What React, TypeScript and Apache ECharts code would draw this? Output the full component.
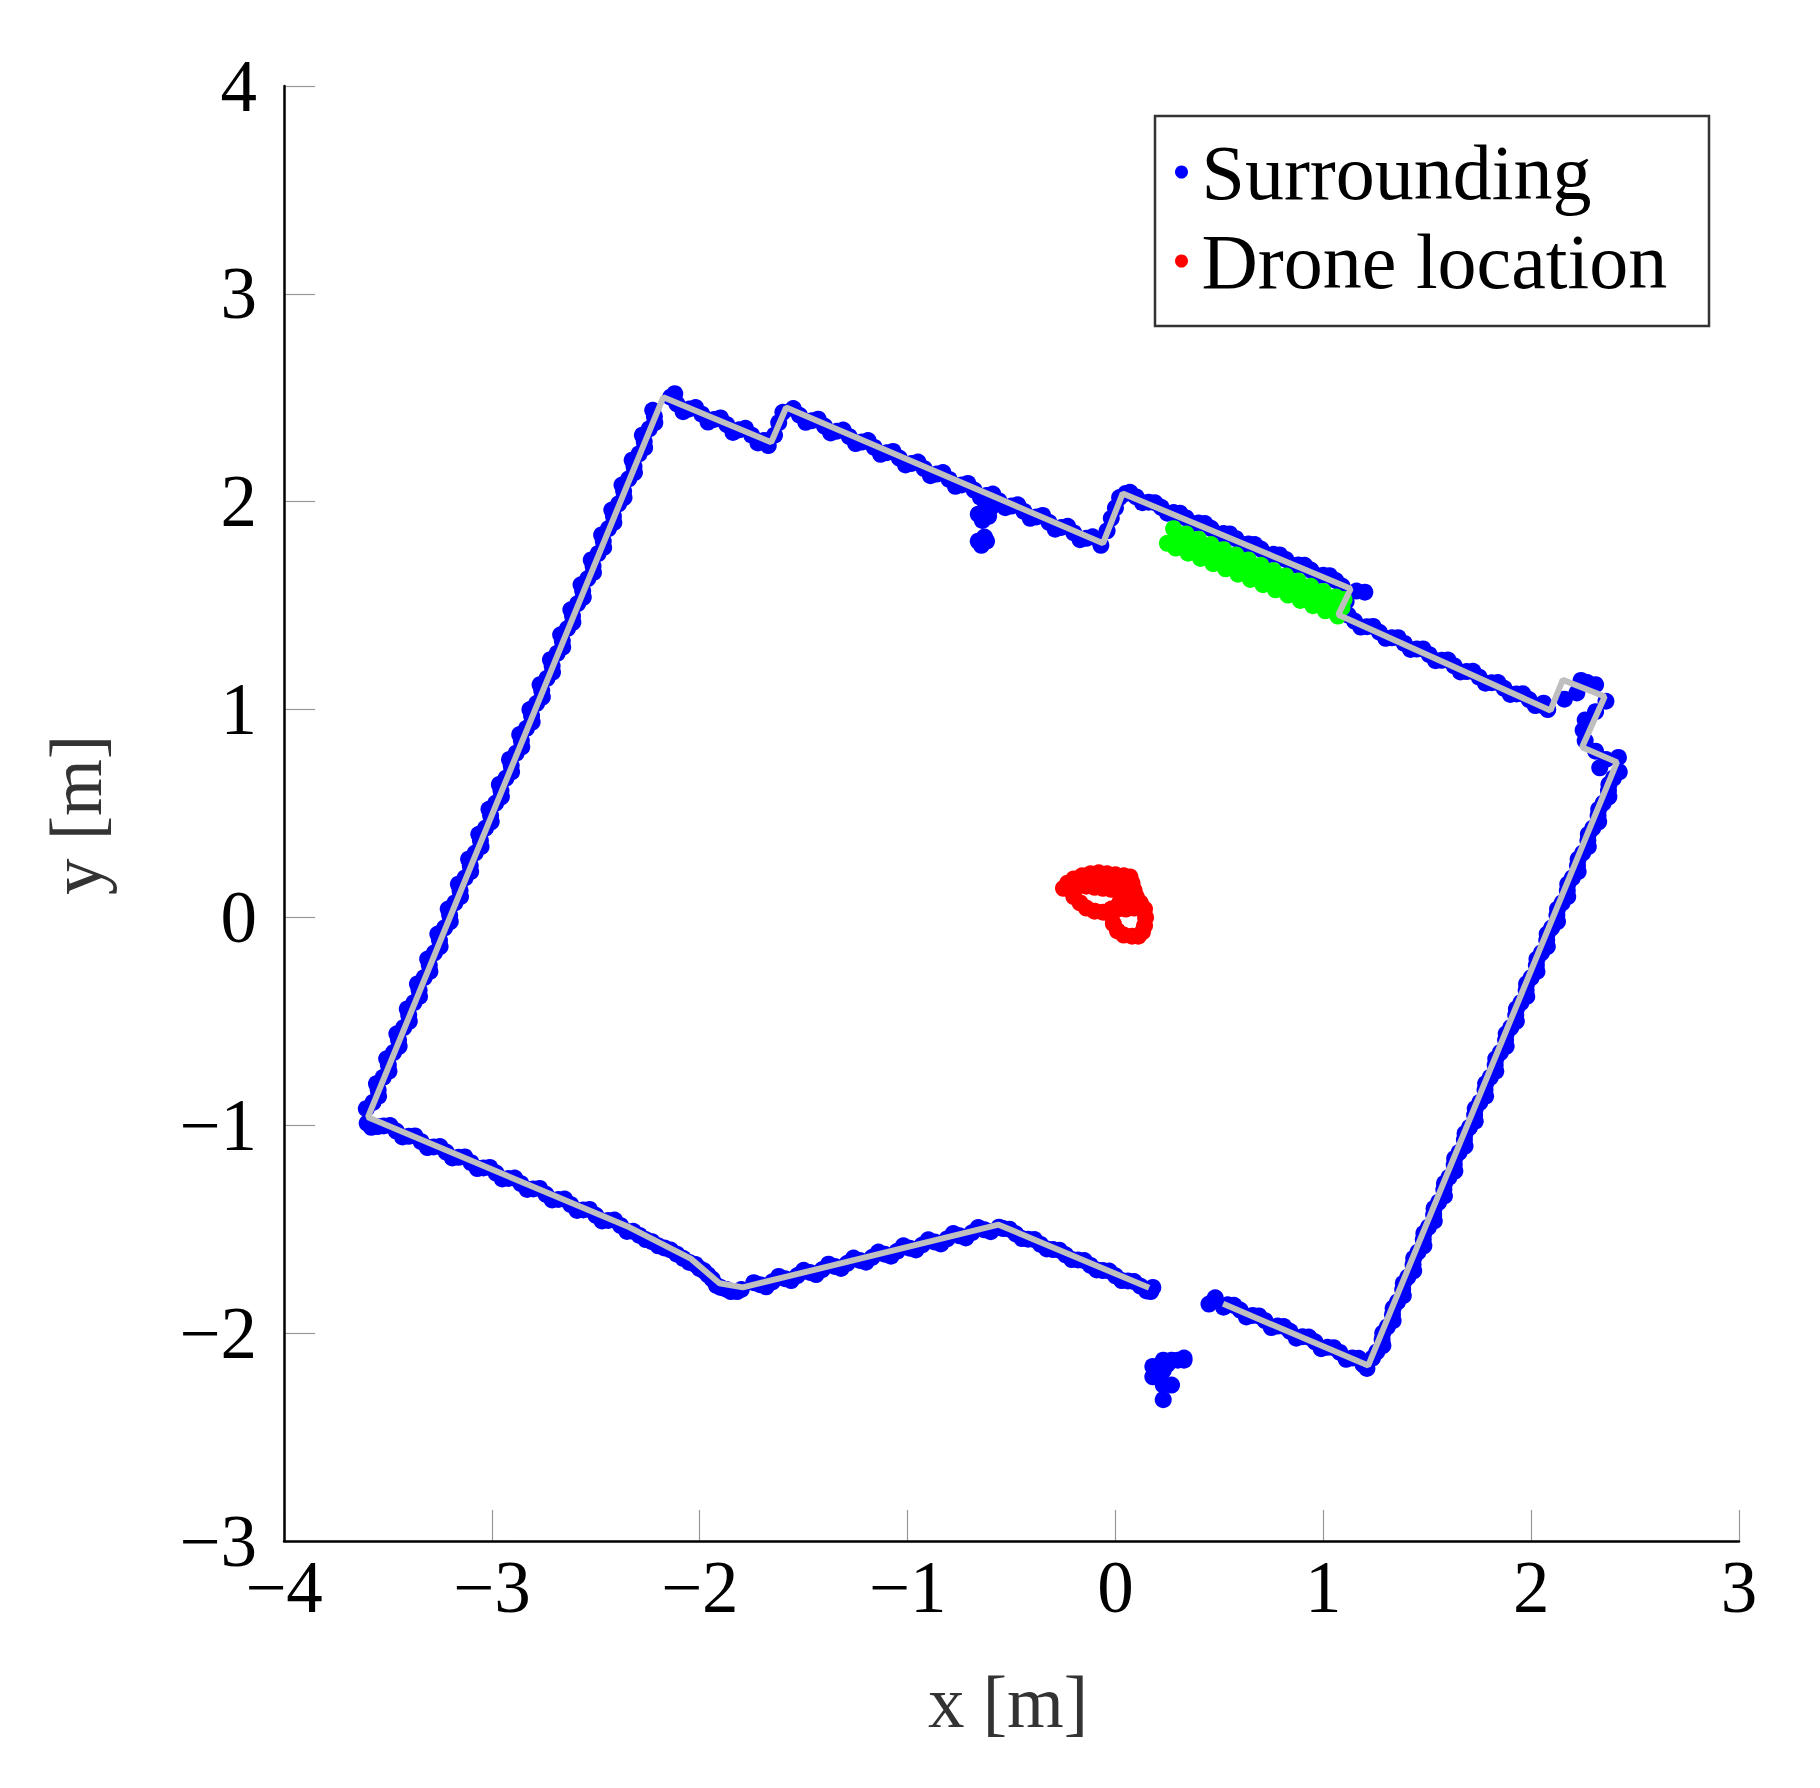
import React, { useEffect, useRef } from "react";
import * as echarts from "echarts";

type P = [number, number];

// Axis ticks
const xTicks = [-4, -3, -2, -1, 0, 1, 2, 3];
const yTicks = [-3, -2, -1, 0, 1, 2, 3, 4];

// Wall model (gray polyline)
const wallModel: P[] = [
  [0.162, -1.782], [-0.562, -1.478], [-1.793, -1.78], [-1.905, -1.76], [-2.041, -1.643],
  [-2.338, -1.491], [-3.596, -0.961], [-2.175, 2.503], [-1.656, 2.286], [-1.584, 2.453],
  [-0.06, 1.8], [0.035, 2.04], [1.132, 1.581], [1.072, 1.456], [2.093, 0.996],
  [2.152, 1.143], [2.354, 1.063], [2.245, 0.819], [2.413, 0.747], [1.216, -2.156],
  [0.518, -1.859],
];

// Surrounding point cloud, per wall
const leftWall: P[] = [
  [-3.604, -0.92], [-3.545, -0.86], [-3.555, -0.8], [-3.495, -0.74], [-3.506, -0.68], [-3.446, -0.62],
  [-3.457, -0.56], [-3.397, -0.5], [-3.407, -0.44], [-3.348, -0.38], [-3.358, -0.32], [-3.298, -0.26],
  [-3.309, -0.2], [-3.249, -0.14], [-3.26, -0.08], [-3.2, -0.02], [-3.21, 0.04], [-3.151, 0.1],
  [-3.161, 0.16], [-3.102, 0.22], [-3.112, 0.28], [-3.052, 0.34], [-3.063, 0.4], [-3.003, 0.46],
  [-3.014, 0.52], [-2.954, 0.58], [-2.964, 0.64], [-2.905, 0.7], [-2.915, 0.76], [-2.856, 0.82],
  [-2.866, 0.88], [-2.806, 0.94], [-2.817, 1.0], [-2.757, 1.06], [-2.768, 1.12], [-2.708, 1.18],
  [-2.718, 1.24], [-2.659, 1.3], [-2.669, 1.36], [-2.61, 1.42], [-2.62, 1.48], [-2.56, 1.54],
  [-2.571, 1.6], [-2.511, 1.66], [-2.522, 1.72], [-2.462, 1.78], [-2.472, 1.84], [-2.413, 1.9],
  [-2.423, 1.96], [-2.364, 2.02], [-2.374, 2.08], [-2.314, 2.14], [-2.325, 2.2], [-2.265, 2.26],
  [-2.276, 2.32], [-2.216, 2.38], [-2.226, 2.44],
];
const leftWallInner: P[] = [
  [-3.572, -0.89], [-3.547, -0.83], [-3.523, -0.77], [-3.498, -0.71], [-3.473, -0.65], [-3.449, -0.59],
  [-3.424, -0.53], [-3.4, -0.47], [-3.375, -0.41], [-3.35, -0.35], [-3.326, -0.29], [-3.301, -0.23],
  [-3.276, -0.17], [-3.252, -0.11], [-3.227, -0.05], [-3.203, 0.01], [-3.178, 0.07], [-3.153, 0.13],
  [-3.129, 0.19], [-3.104, 0.25], [-3.08, 0.31], [-3.055, 0.37], [-3.03, 0.43], [-3.006, 0.49],
  [-2.981, 0.55], [-2.956, 0.61], [-2.932, 0.67], [-2.907, 0.73], [-2.883, 0.79], [-2.858, 0.85],
  [-2.833, 0.91], [-2.809, 0.97], [-2.784, 1.03], [-2.76, 1.09], [-2.735, 1.15], [-2.71, 1.21],
  [-2.686, 1.27], [-2.661, 1.33], [-2.636, 1.39], [-2.612, 1.45], [-2.587, 1.51], [-2.563, 1.57],
  [-2.538, 1.63], [-2.513, 1.69], [-2.489, 1.75], [-2.464, 1.81], [-2.439, 1.87], [-2.415, 1.93],
  [-2.39, 1.99], [-2.366, 2.05], [-2.341, 2.11], [-2.316, 2.17], [-2.292, 2.23], [-2.267, 2.29],
  [-2.243, 2.35], [-2.218, 2.41],
];
const topWallWest: P[] = [
  [-2.12, 2.52], [-2.14, 2.503], [-2.08, 2.433], [-2.02, 2.453], [-1.96, 2.383], [-1.9, 2.403],
  [-1.84, 2.333], [-1.78, 2.353], [-1.72, 2.283], [-1.67, 2.27], [-1.64, 2.32], [-1.62, 2.38], [-1.6, 2.43],
  [-2.11, 2.471], [-2.05, 2.446], [-1.99, 2.421], [-1.93, 2.396], [-1.87, 2.371], [-1.81, 2.346],
  [-1.75, 2.32], [-1.69, 2.295],
  [-1.55, 2.448], [-1.49, 2.382], [-1.43, 2.397], [-1.37, 2.331], [-1.31, 2.345], [-1.25, 2.28],
  [-1.19, 2.294], [-1.13, 2.228], [-1.07, 2.242], [-1.01, 2.177], [-0.95, 2.191], [-0.89, 2.125],
  [-0.83, 2.14], [-0.77, 2.074], [-0.71, 2.088], [-0.65, 2.022], [-0.59, 2.037], [-0.53, 1.971],
  [-0.47, 1.985], [-0.41, 1.92], [-0.35, 1.934], [-0.29, 1.868], [-0.23, 1.882], [-0.17, 1.817],
  [-0.11, 1.831], [-0.07, 1.79],
  [-1.52, 2.416], [-1.46, 2.39], [-1.4, 2.364], [-1.34, 2.339], [-1.28, 2.313], [-1.22, 2.287],
  [-1.16, 2.261], [-1.1, 2.236], [-1.04, 2.21], [-0.98, 2.184], [-0.92, 2.159], [-0.86, 2.133],
  [-0.8, 2.107], [-0.74, 2.081], [-0.68, 2.056], [-0.62, 2.03], [-0.56, 2.004], [-0.5, 1.979],
  [-0.44, 1.953], [-0.38, 1.927], [-0.32, 1.901], [-0.26, 1.876], [-0.2, 1.85], [-0.14, 1.824],
  [-0.66, 1.94], [-0.63, 1.96], [-0.6, 1.97], [-0.64, 1.91], [-0.61, 1.93],
  [-0.66, 1.81], [-0.63, 1.83], [-0.645, 1.79], [-0.62, 1.81],
];
const topWallEast: P[] = [
  [-0.04, 1.86], [-0.02, 1.92], [0.0, 1.97], [0.02, 2.02], [0.05, 2.04],
  [0.07, 2.045], [0.13, 1.995], [0.19, 1.995], [0.25, 1.945], [0.31, 1.945], [0.37, 1.895],
  [0.43, 1.895], [0.49, 1.845], [0.55, 1.845], [0.61, 1.794], [0.67, 1.794], [0.73, 1.744],
  [0.79, 1.744], [0.85, 1.694], [0.91, 1.694], [0.97, 1.644], [1.03, 1.644], [1.09, 1.594],
  [0.1, 2.023], [0.16, 1.998], [0.22, 1.973], [0.28, 1.948], [0.34, 1.922], [0.4, 1.897],
  [0.46, 1.872], [0.52, 1.847], [0.58, 1.822], [0.64, 1.797], [0.7, 1.772], [0.76, 1.747],
  [0.82, 1.722], [0.88, 1.696], [0.94, 1.671], [1.0, 1.646], [1.06, 1.621],
  [1.16, 1.57], [1.2, 1.565], [1.11, 1.52], [1.1, 1.47],
  [1.12, 1.454], [1.18, 1.397], [1.24, 1.4], [1.3, 1.343], [1.36, 1.346], [1.42, 1.289],
  [1.48, 1.292], [1.54, 1.235], [1.6, 1.238], [1.66, 1.181], [1.72, 1.184], [1.78, 1.127],
  [1.84, 1.13], [1.9, 1.073], [1.96, 1.076], [2.02, 1.019], [2.06, 1.031], [2.08, 1.0],
  [1.15, 1.426], [1.21, 1.399], [1.27, 1.372], [1.33, 1.345], [1.39, 1.318], [1.45, 1.291],
  [1.51, 1.264], [1.57, 1.237], [1.63, 1.21], [1.69, 1.183], [1.75, 1.156], [1.81, 1.129],
  [1.87, 1.102], [1.93, 1.075], [1.99, 1.048], [2.05, 1.021],
  [2.16, 1.05], [2.22, 1.08], [2.24, 1.14], [2.31, 1.12], [2.36, 1.04], [2.27, 1.13],
  [2.31, 0.99], [2.26, 0.95], [2.25, 0.9], [2.26, 0.85], [2.31, 0.8], [2.36, 0.76],
  [2.42, 0.77], [2.33, 0.72],
];
const rightWall: P[] = [
  [2.424, 0.7], [2.374, 0.64], [2.374, 0.58], [2.325, 0.52], [2.325, 0.46], [2.275, 0.4],
  [2.275, 0.34], [2.226, 0.28], [2.226, 0.22], [2.176, 0.16], [2.176, 0.1], [2.127, 0.04],
  [2.127, -0.02], [2.077, -0.08], [2.078, -0.14], [2.028, -0.2], [2.028, -0.26], [1.978, -0.32],
  [1.979, -0.38], [1.929, -0.44], [1.929, -0.5], [1.88, -0.56], [1.88, -0.62], [1.83, -0.68],
  [1.83, -0.74], [1.781, -0.8], [1.781, -0.86], [1.731, -0.92], [1.731, -0.98], [1.682, -1.04],
  [1.682, -1.1], [1.632, -1.16], [1.633, -1.22], [1.583, -1.28], [1.583, -1.34], [1.533, -1.4],
  [1.534, -1.46], [1.484, -1.52], [1.484, -1.58], [1.435, -1.64], [1.435, -1.7], [1.385, -1.76],
  [1.385, -1.82], [1.336, -1.88], [1.336, -1.94], [1.286, -2.0], [1.287, -2.06], [1.237, -2.12],
  [1.21, -2.17], [1.19, -2.15],
];
const rightWallInner: P[] = [
  [2.396, 0.67], [2.372, 0.61], [2.347, 0.55], [2.322, 0.49], [2.297, 0.43], [2.273, 0.37],
  [2.248, 0.31], [2.223, 0.25], [2.198, 0.19], [2.174, 0.13], [2.149, 0.07], [2.124, 0.01],
  [2.099, -0.05], [2.075, -0.11], [2.05, -0.17], [2.025, -0.23], [2.0, -0.29], [1.976, -0.35],
  [1.951, -0.41], [1.926, -0.47], [1.902, -0.53], [1.877, -0.59], [1.852, -0.65], [1.827, -0.71],
  [1.803, -0.77], [1.778, -0.83], [1.753, -0.89], [1.728, -0.95], [1.704, -1.01], [1.679, -1.07],
  [1.654, -1.13], [1.63, -1.19], [1.605, -1.25], [1.58, -1.31], [1.555, -1.37], [1.531, -1.43],
  [1.506, -1.49], [1.481, -1.55], [1.456, -1.61], [1.432, -1.67], [1.407, -1.73], [1.382, -1.79],
  [1.357, -1.85], [1.333, -1.91], [1.308, -1.97], [1.283, -2.03], [1.258, -2.09],
];
const bottomWallEast: P[] = [
  [1.17, -2.121], [1.11, -2.126], [1.05, -2.07], [0.99, -2.075], [0.93, -2.019], [0.87, -2.024],
  [0.81, -1.968], [0.75, -1.973], [0.69, -1.917], [0.63, -1.922], [0.57, -1.866], [0.52, -1.875],
  [1.14, -2.119], [1.08, -2.093], [1.02, -2.068], [0.96, -2.042], [0.9, -2.017], [0.84, -1.991],
  [0.78, -1.966], [0.72, -1.94], [0.66, -1.915], [0.6, -1.889], [0.54, -1.864],
  [0.48, -1.83], [0.45, -1.86],
];
const doorwayPts: P[] = [
  [0.18, -2.16], [0.23, -2.13], [0.27, -2.13], [0.33, -2.12], [0.33, -2.13], [0.18, -2.21],
  [0.23, -2.18], [0.23, -2.25], [0.27, -2.25], [0.23, -2.32], [0.3, -2.13], [0.25, -2.15],
];
const bottomWallWest: P[] = [
  [0.17, -1.8], [0.18, -1.78],
  [0.15, -1.797], [0.09, -1.752], [0.03, -1.747], [-0.03, -1.701], [-0.09, -1.696], [-0.15, -1.651],
  [-0.21, -1.646], [-0.27, -1.601], [-0.33, -1.595], [-0.39, -1.55], [-0.45, -1.545], [-0.51, -1.5],
  [0.12, -1.774], [0.06, -1.749], [0.0, -1.724], [-0.06, -1.699], [-0.12, -1.674], [-0.18, -1.648],
  [-0.24, -1.623], [-0.3, -1.598], [-0.36, -1.573], [-0.42, -1.548], [-0.48, -1.522], [-0.54, -1.497],
  [-0.56, -1.49],
  [-0.6, -1.512], [-0.66, -1.492], [-0.72, -1.542], [-0.78, -1.521], [-0.84, -1.571], [-0.9, -1.551],
  [-0.96, -1.6], [-1.02, -1.58], [-1.08, -1.63], [-1.14, -1.61], [-1.2, -1.659], [-1.26, -1.639],
  [-1.32, -1.689], [-1.38, -1.668], [-1.44, -1.718], [-1.5, -1.698], [-1.56, -1.747], [-1.62, -1.727],
  [-1.68, -1.777], [-1.74, -1.757],
  [-0.63, -1.503], [-0.69, -1.517], [-0.75, -1.532], [-0.81, -1.547], [-0.87, -1.561], [-0.93, -1.576],
  [-0.99, -1.591], [-1.05, -1.606], [-1.11, -1.62], [-1.17, -1.635], [-1.23, -1.65], [-1.29, -1.664],
  [-1.35, -1.679], [-1.41, -1.694], [-1.47, -1.708], [-1.53, -1.723], [-1.59, -1.738], [-1.65, -1.753],
  [-1.71, -1.767],
  [-1.82, -1.8], [-1.87, -1.79], [-1.92, -1.77], [-1.96, -1.72], [-2.0, -1.69], [-2.05, -1.66],
  [-2.11, -1.62], [-2.17, -1.59], [-2.23, -1.56], [-2.29, -1.53],
  [-1.8, -1.79], [-1.85, -1.8], [-1.9, -1.78], [-1.94, -1.74], [-1.98, -1.7], [-2.02, -1.67],
  [-2.08, -1.64], [-2.14, -1.6], [-2.2, -1.58], [-2.26, -1.55], [-2.32, -1.51],
  [-2.35, -1.511], [-2.41, -1.456], [-2.47, -1.46], [-2.53, -1.405], [-2.59, -1.41], [-2.65, -1.355],
  [-2.71, -1.359], [-2.77, -1.304], [-2.83, -1.309], [-2.89, -1.254], [-2.95, -1.258], [-3.01, -1.203],
  [-3.07, -1.208], [-3.13, -1.152], [-3.19, -1.157], [-3.25, -1.102], [-3.31, -1.107], [-3.37, -1.051],
  [-3.43, -1.056], [-3.49, -1.001], [-3.55, -1.006], [-3.6, -0.99], [-3.58, -1.01],
  [-2.38, -1.483], [-2.44, -1.458], [-2.5, -1.433], [-2.56, -1.407], [-2.62, -1.382], [-2.68, -1.357],
  [-2.74, -1.332], [-2.8, -1.306], [-2.86, -1.281], [-2.92, -1.256], [-2.98, -1.23], [-3.04, -1.205],
  [-3.1, -1.18], [-3.16, -1.154], [-3.22, -1.129], [-3.28, -1.104], [-3.34, -1.079], [-3.4, -1.053],
  [-3.46, -1.028], [-3.52, -1.003],
];

// Green points along the upper-right wall
const greenPts: P[] = [
  [0.28, 1.87], [0.34, 1.845], [0.4, 1.82], [0.46, 1.794], [0.52, 1.769], [0.58, 1.744], [0.64, 1.719],
  [0.7, 1.694], [0.76, 1.668], [0.82, 1.643], [0.88, 1.618], [0.94, 1.593], [1.0, 1.568], [1.06, 1.542],
  [0.29, 1.777], [0.35, 1.752], [0.41, 1.727], [0.47, 1.702], [0.53, 1.677], [0.59, 1.651], [0.65, 1.626],
  [0.71, 1.601], [0.77, 1.576], [0.83, 1.551], [0.89, 1.525], [0.95, 1.5], [1.01, 1.475], [1.07, 1.45],
  [0.31, 1.813], [0.43, 1.763], [0.55, 1.712], [0.67, 1.662], [0.79, 1.612], [0.91, 1.561], [1.03, 1.511],
  [0.37, 1.79], [0.49, 1.738], [0.61, 1.687], [0.73, 1.637], [0.85, 1.586], [0.97, 1.536],
  [0.25, 1.8], [1.09, 1.49], [1.1, 1.53],
];

// Drone trajectory
const droneTrack: P[] = [
  [-0.25, 0.14], [-0.23, 0.165], [-0.2, 0.185], [-0.16, 0.2], [-0.12, 0.21], [-0.08, 0.215], [-0.04, 0.21],
  [0.0, 0.205], [0.04, 0.2], [0.07, 0.195], [0.08, 0.165], [0.09, 0.13], [0.1, 0.1], [0.12, 0.07],
  [0.14, 0.04], [0.145, 0.0], [0.14, -0.04], [0.13, -0.07], [0.11, -0.09], [0.08, -0.09], [0.04, -0.085],
  [0.01, -0.065], [-0.01, -0.03], [-0.02, 0.01], [0.01, 0.04], [0.05, 0.04], [0.09, 0.045], [0.12, 0.05],
  [0.05, 0.1], [0.02, 0.12], [-0.02, 0.135], [-0.06, 0.14], [-0.1, 0.145], [-0.14, 0.15], [-0.18, 0.15],
  [-0.21, 0.13], [-0.2, 0.1], [-0.17, 0.07], [-0.14, 0.045], [-0.1, 0.03], [-0.06, 0.025], [-0.02, 0.04],
  [0.02, 0.07], [0.06, 0.09], [-0.2, 0.16], [-0.15, 0.18], [-0.1, 0.185], [-0.05, 0.18], [0.0, 0.175],
  [0.04, 0.165],
];

const surrounding: P[] = [
  ...leftWall, ...leftWallInner, ...topWallWest, ...topWallEast, ...rightWall, ...rightWallInner,
  ...bottomWallEast, ...doorwayPts, ...bottomWallWest,
];

const FONT = "'Liberation Serif', 'Times New Roman', serif";
const fmt = (v: number) => (v < 0 ? "\u2212" + Math.abs(v) : String(v));
const DOT = 17;

export default function App() {
  const ref = useRef<HTMLDivElement>(null);
  useEffect(() => {
    if (!ref.current) return;
    const chart = echarts.init(ref.current, null, { renderer: "svg" });
    const tickAxis = {
      type: "value" as const,
      interval: 1,
      splitLine: { show: false },
      axisLine: { show: false, onZero: false },
      axisTick: { show: true, inside: true, length: 31, lineStyle: { color: "#999", width: 1.2 } },
      z: 1,
    };
    const lineAxis = {
      type: "value" as const,
      interval: 1,
      splitLine: { show: false },
      axisLine: { show: true, onZero: false, lineStyle: { color: "#000", width: 2.5 } },
      axisTick: { show: false },
      axisLabel: { show: false },
      z: 5,
    };
    const xMin = xTicks[0];
    const xMax = xTicks[xTicks.length - 1];
    const yMin = yTicks[0];
    const yMax = yTicks[yTicks.length - 1];
    chart.setOption({
      animation: false,
      backgroundColor: "#fff",
      grid: { left: 284, top: 86, width: 1455, height: 1455 },
      xAxis: [
        {
          ...tickAxis,
          position: "bottom",
          min: xMin,
          max: xMax,
          axisLabel: { fontFamily: FONT, fontSize: 73, color: "#000", margin: 10, formatter: fmt },
        },
        { ...lineAxis, position: "bottom", min: xMin, max: xMax },
      ],
      yAxis: [
        {
          ...tickAxis,
          position: "left",
          min: yMin,
          max: yMax,
          axisLabel: { fontFamily: FONT, fontSize: 73, color: "#000", margin: 27, formatter: fmt },
        },
        { ...lineAxis, position: "left", min: yMin, max: yMax },
      ],
      legend: {
        data: ["Surrounding", "Drone location"],
        orient: "vertical",
        left: 1175,
        top: 133,
        icon: "circle",
        itemWidth: 30,
        itemHeight: 13,
        itemGap: 11,
        padding: 0,
        textStyle: { fontFamily: FONT, fontSize: 78, color: "#000" },
      },
      graphic: [
        {
          type: "rect",
          shape: { x: 1155, y: 116, width: 554, height: 210 },
          style: { fill: "none", stroke: "#333", lineWidth: 2.5 },
          z: 10,
        },
        {
          type: "text",
          x: 1008,
          y: 1702,
          style: { text: "x [m]", fontFamily: FONT, fontSize: 73, fill: "#333", align: "center", verticalAlign: "middle" },
        },
        {
          type: "text",
          x: 76,
          y: 815,
          rotation: Math.PI / 2,
          style: { text: "y [m]", fontFamily: FONT, fontSize: 73, fill: "#333", align: "center", verticalAlign: "middle" },
        },
      ],
      series: [
        {
          name: "Surrounding",
          type: "scatter",
          data: surrounding,
          symbol: "circle",
          symbolSize: DOT,
          itemStyle: { color: "#0000ff", opacity: 1 },
          z: 2,
        },
        {
          name: "Free space",
          type: "scatter",
          data: greenPts,
          symbol: "circle",
          symbolSize: DOT,
          itemStyle: { color: "#00ff00", opacity: 1 },
          z: 3,
        },
        {
          name: "Drone location",
          type: "scatter",
          data: droneTrack,
          symbol: "circle",
          symbolSize: DOT,
          itemStyle: { color: "#ff0000", opacity: 1 },
          z: 3,
        },
        {
          name: "Wall model",
          type: "line",
          data: wallModel,
          showSymbol: false,
          symbol: "none",
          lineStyle: { color: "#bfbfbf", width: 6 },
          z: 4,
        },
      ],
    });
    return () => chart.dispose();
  }, []);
  return (
    <div
      ref={ref}
      style={{ position: "absolute", left: 0, top: 0, width: 1820, height: 1788, background: "#fff" }}
    />
  );
}
